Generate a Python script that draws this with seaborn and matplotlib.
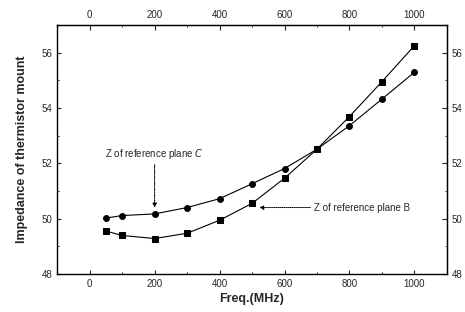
import numpy as np
import pandas as pd
import matplotlib
matplotlib.use("Agg")
import matplotlib.pyplot as plt
import seaborn as sns
from matplotlib.ticker import MultipleLocator

# data
freq = [50, 100, 200, 300, 400, 500, 600, 700, 800, 900, 1000]
z_plane_c = [50.02, 50.11, 50.17, 50.40, 50.72, 51.26, 51.81, 52.51, 53.36, 54.32, 55.29]
z_plane_b = [49.55, 49.39, 49.28, 49.47, 49.94, 50.55, 51.46, 52.51, 53.69, 54.95, 56.25]
x_ticks = [0, 200, 400, 600, 800, 1000]
y_ticks = [48, 50, 52, 54, 56]

df = pd.DataFrame({
    "freq": freq * 2,
    "z": z_plane_c + z_plane_b,
    "plane": ["C"] * len(freq) + ["B"] * len(freq),
})

sns.set_style("ticks")
plt.rcParams["font.family"] = ["Liberation Sans", "DejaVu Sans"]

fig = plt.figure(figsize=(4.65, 3.12), dpi=100)
ax = fig.add_axes([0.123, 0.122, 0.838, 0.798])

sns.lineplot(data=df, x="freq", y="z", style="plane", markers={"C": "o", "B": "s"},
             dashes=False, color="black", linewidth=0.8, markersize=4.2,
             markeredgecolor="black", legend=False, ax=ax)

ax.set_xlim(-100, 1100)
ax.set_ylim(48, 57)
ax.set_xticks(x_ticks)
ax.set_yticks(y_ticks)
ax.xaxis.set_minor_locator(MultipleLocator(100))
ax.yaxis.set_minor_locator(MultipleLocator(1))
ax.tick_params(which="both", direction="in", labelsize=7, width=0.8)
ax.tick_params(which="major", length=3)
ax.tick_params(which="minor", length=1.5)
for s in ax.spines.values():
    s.set_linewidth(1.0)
    s.set_color("black")

sec_x = ax.secondary_xaxis("top")
sec_x.set_xticks(x_ticks)
sec_x.xaxis.set_minor_locator(MultipleLocator(100))
sec_x.tick_params(which="both", direction="in", labelsize=7)
sec_x.tick_params(which="minor", length=1.5)
sec_y = ax.secondary_yaxis("right")
sec_y.set_yticks(y_ticks)
sec_y.yaxis.set_minor_locator(MultipleLocator(1))
sec_y.tick_params(which="both", direction="in", labelsize=7)
sec_y.tick_params(which="minor", length=1.5)

ax.set_xlabel("Freq.(MHz)", fontsize=9, fontweight="bold", labelpad=3)
ax.set_ylabel("Impedance of thermistor mount", fontsize=9, fontweight="bold", labelpad=10)

ax.annotate("", xy=(200, 50.3), xytext=(200, 52.05),
            arrowprops=dict(arrowstyle="-|>", linestyle=(0, (3, 1, 1, 1)), lw=0.7,
                            color="black", mutation_scale=6))
ax.text(200, 52.35, "Z of reference plane $C$", fontsize=7, ha="center", va="center")

ax.annotate("", xy=(514, 50.4), xytext=(688, 50.4),
            arrowprops=dict(arrowstyle="-|>", linestyle=(0, (1, 1)), lw=0.7,
                            color="black", mutation_scale=6))
ax.text(692, 50.4, "Z of reference plane B", fontsize=7, ha="left", va="center")

fig.savefig("out.png", dpi=100)
